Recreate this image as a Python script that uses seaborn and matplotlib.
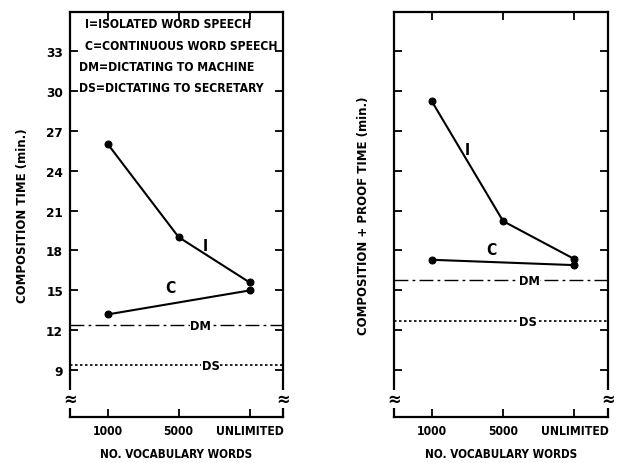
import matplotlib
matplotlib.use("Agg")
import matplotlib.pyplot as plt
import seaborn as sns
import pandas as pd

# data
vocab = ["1000", "5000", "UNLIMITED"]
comp_isolated = [26.0, 19.0, 15.6]
comp_continuous = [13.2, None, 15.0]
comp_dm = 12.4
comp_ds = 9.4

proof_isolated = [29.2, 20.2, 17.35]
proof_continuous = [17.3, None, 16.9]
proof_dm = 15.75
proof_ds = 12.7

yticks = [9, 12, 15, 18, 21, 24, 27, 30, 33]
legend_lines = ["I=ISOLATED WORD SPEECH", "C=CONTINUOUS WORD SPEECH",
                "DM=DICTATING TO MACHINE", "DS=DICTATING TO SECRETARY"]

sns.set_style("ticks")
plt.rcParams["font.family"] = ["DejaVu Sans"]
plt.rcParams["font.stretch"] = "condensed"
plt.rcParams["font.weight"] = "bold"
plt.rcParams["axes.labelweight"] = "bold"
plt.rcParams["text.color"] = "black"
plt.rcParams["axes.labelcolor"] = "black"
plt.rcParams["xtick.color"] = "black"
plt.rcParams["ytick.color"] = "black"

FS = 8.7


def make_frame(iso, cont):
    rows = []
    for i, v in enumerate(iso):
        rows.append({"pos": i, "time": v, "series": "I"})
    for i, v in enumerate(cont):
        if v is not None:
            rows.append({"pos": i, "time": v, "series": "C"})
    return pd.DataFrame(rows)


def draw_panel(ax, iso, cont, dm, ds, labels, ylabel, lbl_pos):
    df = make_frame(iso, cont)
    sns.lineplot(data=df, x="pos", y="time", units="series", estimator=None,
                 color="black", lw=1.5, marker="o", markersize=5,
                 markeredgecolor="black", legend=False, ax=ax)
    ax.axhline(dm, color="black", lw=1.0, ls=(0, (10, 3, 2, 3)))
    ax.axhline(ds, color="black", lw=1.2, ls=(0, (1.5, 1.5)))
    ax.set_xlim(-0.53, 2.47)
    ax.set_ylim(5.5, 35.9)
    ax.set_xticks(range(len(vocab)))
    ax.set_xticklabels(vocab, fontsize=FS)
    ax.set_yticks(yticks)
    if labels:
        ax.set_yticklabels([str(t) for t in yticks], fontsize=FS + 1)
    else:
        ax.set_yticklabels([])
    ax.tick_params(direction="in", length=6, width=1.3, top=True, right=True,
                   pad=5)
    for s in ax.spines.values():
        s.set_linewidth(1.6)
        s.set_color("black")
    ax.set_xlabel("NO. VOCABULARY WORDS", fontsize=8.4, labelpad=7)
    ax.set_ylabel(ylabel, fontsize=9.4, labelpad=12)
    bb = dict(fc="white", ec="none", pad=0.3)
    (ix, iy), (cx, cy), dmx, dsx = lbl_pos
    ax.text(ix, iy, "I", fontsize=FS + 2.5, ha="center", va="center")
    ax.text(cx, cy, "C", fontsize=FS + 2.5, ha="center", va="center")
    ax.text(dmx, dm, "DM", fontsize=FS + 0.5, ha="center", va="center", bbox=bb)
    ax.text(dsx, ds, "DS", fontsize=FS + 0.5, ha="center", va="center", bbox=bb)
    # axis break marks on both spines
    for xx in (0, 1):
        ax.text(xx, 6.85, "\u2248", transform=ax.get_yaxis_transform(),
                fontsize=13, ha="center", va="center",
                clip_on=False, bbox=dict(fc="white", ec="none", pad=0.0))


fig = plt.figure(figsize=(6.18, 4.64), dpi=100)
ax1 = fig.add_axes([70 / 618, 46 / 464, 213 / 618, 405 / 464])
ax2 = fig.add_axes([394 / 618, 46 / 464, 214 / 618, 405 / 464])

draw_panel(ax1, comp_isolated, comp_continuous, comp_dm, comp_ds, True,
           "COMPOSITION TIME (min.)",
           ((1.38, 18.4), (0.89, 15.2), 1.31, 1.45))
draw_panel(ax2, proof_isolated, proof_continuous, proof_dm, proof_ds, False,
           "COMPOSITION + PROOF TIME (min.)",
           ((0.5, 25.6), (0.83, 18.1), 1.37, 1.35))

for i, line in enumerate(legend_lines):
    x0 = 0.07 if i < 2 else 0.04
    ax1.text(x0, 35.0 - i * 1.58, line, fontsize=FS, ha="left", va="center",
             transform=ax1.get_yaxis_transform())

fig.savefig("out.png", dpi=100)
plt.close(fig)
